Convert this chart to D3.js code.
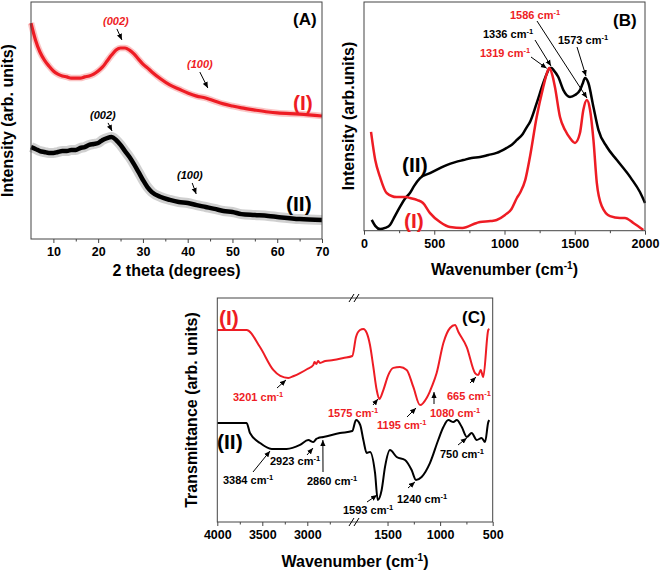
<!DOCTYPE html>
<html><head><meta charset="utf-8">
<script src="https://cdn.jsdelivr.net/npm/d3@7"></script>
<style>
body{margin:0;background:#fff}
svg{display:block}
text{font-family:"Liberation Sans",Arial,sans-serif;font-weight:bold}
</style>
</head><body><svg id="c" width="661" height="571"></svg>
<script>
// ---------- DATA ----------
// (A) XRD
const xrdTheta = [5,6,7,8,9,10,11,12,13,14,15,16,17,18,19,20,21,22,23,24,25,26,27,28,29,30,31,32,34,36,38,40,42,44,46,48,50,52,55,58,60,65,70];
const xrdI  = [91.1,84.0,78.9,75.5,73.0,70.9,69.6,68.8,68.4,67.9,67.9,67.9,68.4,68.8,69.6,70.9,72.6,75.1,77.6,79.7,80.6,80.6,79.7,78.1,75.9,73.8,72.2,70.5,67.5,65.0,63.3,61.6,60.3,59.5,58.2,57.0,56.1,55.3,54.4,53.6,53.2,52.7,51.9];
const xrdII = [38.8,38.0,37.1,36.7,36.3,36.3,36.7,37.1,37.1,37.6,37.6,38.4,38.8,39.7,40.1,40.5,41.8,42.6,43.0,41.8,39.7,37.1,34.6,31.6,28.3,24.9,21.9,19.8,17.7,16.5,15.6,15.2,14.3,13.5,12.7,11.8,11.4,10.5,10.1,9.7,9.3,8.4,8.0];
const xrdTicks = [10,20,30,40,50,60,70];

// (B) Raman
const ramanWaveI = [50,80,114,161,232,300,327,380,420,470,541,612,700,802,826,900,944,1004,1050,1088,1110,1148,1181,1229,1276,1300,1319,1340,1359,1395,1431,1466,1502,1537,1561,1586,1609,1633,1657,1692,1751,1822,1857,1917,1988];
const ramanIntI  = [43.2,30.9,23.5,16.5,14.7,14.7,14.3,13.4,12.1,7.7,3.8,1.6,1.2,3.4,3.8,4.2,4.7,6.9,9.5,14.3,16.5,22.2,32.2,49.7,62.8,68.5,71.1,68.1,62.8,49.7,44.0,40.5,38.4,42.7,52.8,57.2,52.8,39.7,20.9,10.8,6.4,5.6,5.6,3.4,0.3];
const ramanWaveII = [55,80,114,150,185,220,256,290,327,356,399,470,530,588,650,707,766,826,885,944,1015,1050,1088,1130,1159,1181,1229,1276,1300,1324,1336,1348,1383,1419,1466,1502,1537,1555,1573,1597,1633,1669,1729,1800,1900,1964,2000];
const ramanIntII  = [4.7,2.1,0.7,1.2,2.5,6.4,10.4,13.9,16.5,19.5,23.0,25.2,27.0,28.7,30.0,30.9,31.8,32.2,33.1,34.0,36.2,37.5,39.7,42.3,45.3,47.5,55.8,64.6,68.5,71.1,71.1,70.3,67.2,61.5,58.5,59.3,61.5,64.1,66.8,64.6,54.1,44.0,36.6,30.9,23.0,16.9,12.1];
const ramanTicks = [0,500,1000,1500,2000];

// (C) FTIR
const ftirWaveI = [4000,3674,3526,3378,3300,3211,3150,3081,3000,2933,2920,2900,2880,2859,2800,2711,2600,2500,1800,1762,1730,1698,1667,1635,1603,1578,1540,1493,1445,1382,1318,1255,1191,1128,1100,1080,1033,969,906,858,826,747,668,637,614,590,542,532];
const ftirTI     = [85.7,85.7,78.1,67.9,65.2,64.3,65.2,66.5,68.3,70.1,71.4,70.5,71.9,71.0,71.9,72.3,73.2,74.1,82.6,85.7,86.2,84.4,79.0,69.2,58.9,54.9,58.9,65.6,68.8,69.2,67.9,60.3,52.2,55.4,58.0,60.3,66.5,79.9,86.6,87.9,84.8,78.1,66.5,65.6,67.9,64.7,85.7,86.2];
const ftirWaveII = [4000,3674,3637,3526,3396,3300,3230,3081,2989,2933,2900,2878,2822,2637,2500,1800,1760,1730,1698,1667,1619,1593,1556,1524,1477,1413,1334,1271,1230,1176,1097,1018,969,922,874,842,794,747,700,652,605,573,542,532];
const ftirTII    = [44.2,44.2,39.7,35.3,32.6,32.6,32.6,34.4,36.6,35.7,37.1,37.5,37.9,39.7,40.6,45.5,43.3,36.6,30.8,31.3,21.9,9.8,14.3,24.6,32.1,29.0,27.7,23.2,18.8,20.1,26.3,36.6,42.4,45.5,44.6,45.5,42.4,38.0,39.7,36.6,37.5,35.7,44.6,45.5];
const ftirTicks = [4000,3500,3000,1500,1000,500];
const ftirMinor = [3750,3250,2750,1250,750];

// annotations: [text, colour, target x value, target y value]
const xrdNotes = [["(002)","r",25.3,84],["(100)","r",44.5,63.7],["(002)","k",23.1,45.6],["(100)","k",41.9,19]];
const ramanNotes = [["1586","r",1587,58],["1336","k",1331,72],["1319","r",1300,71],["1573","k",1580,67.6]];
const ftirNotes = [["3201","r",3237,63.4],["1575","r",1591,54.9],["1195","r",1229,50.9],["1080","r",1058,58],["665","r",659,64.7],
                   ["3384","k",3414,31.7],["2923","k",2937,33],["2860","k",2827,36.6],["1593","k",1600,12],["1240","k",1239,17.9],["750","k",746,37.5]];

// ---------- DRAW ----------
const RED = "#ee1c24", BLK = "#000";
const col = c => c === "r" ? RED : BLK;
const svg = d3.select("#c");
svg.append("rect").attr("width",661).attr("height",571).attr("fill","#fff");
const defs = svg.append("defs");
defs.append("marker").attr("id","ah").attr("viewBox","0 0 8 8").attr("refX",8).attr("refY",4)
  .attr("markerWidth",6).attr("markerHeight",6).attr("markerUnits","userSpaceOnUse").attr("orient","auto")
  .append("path").attr("d","M0,0.5 L8,4 L0,7.5 Z").attr("fill","#000");

function frame(x0,y0,x1,y1){
  svg.append("rect").attr("x",x0).attr("y",y0).attr("width",x1-x0).attr("height",y1-y0)
    .attr("fill","none").attr("stroke","#444").attr("stroke-width",1);
}
function axis(scale, y, major, minor){
  const g = svg.append("g").attr("transform",`translate(0,${y})`)
    .call(d3.axisBottom(scale).tickValues(major).tickSize(4).tickPadding(4.5).tickFormat(d3.format("d")));
  g.select(".domain").remove();
  g.selectAll(".tick line").attr("stroke","#444");
  g.selectAll("text").attr("font-size",12.5).attr("font-family","Liberation Sans, Arial").attr("font-weight","bold").attr("fill","#000");
  const m = svg.append("g").attr("transform",`translate(0,${y})`)
    .call(d3.axisBottom(scale).tickValues(minor).tickSize(2.5).tickFormat(""));
  m.select(".domain").remove();
  m.selectAll(".tick line").attr("stroke","#444");
}
function title(x,y,txt,sup,rot){
  const t = svg.append("text").attr("font-size",16).attr("text-anchor","middle")
    .attr("transform", rot ? `translate(${x},${y}) rotate(-90)` : `translate(${x},${y})`);
  t.append("tspan").text(txt);
  if (sup){ t.append("tspan").attr("dy",-6).attr("font-size",10).text("-1"); t.append("tspan").attr("dy",6).text(")"); }
}
function label(x,y,txt,c,size,italic){
  return svg.append("text").attr("x",x).attr("y",y).attr("font-size",size).attr("fill",c)
    .attr("font-style", italic ? "italic" : null).text(txt);
}
function cmLabel(x,y,num,c){
  const t = svg.append("text").attr("x",x).attr("y",y).attr("font-size",11).attr("fill",c);
  t.append("tspan").text(num+" cm");
  t.append("tspan").attr("dy",-4).attr("font-size",7.5).text("-1");
}
function arrow(x1,y1,x2,y2){
  svg.append("line").attr("x1",x1).attr("y1",y1).attr("x2",x2).attr("y2",y2)
    .attr("stroke","#000").attr("stroke-width",1).attr("marker-end","url(#ah)");
}
function curve(xs, ys, xS, yS, c, w, band, bandCol, bandOp){
  const data = d3.zip(xs, ys);
  const ln = d3.line().x(d=>xS(d[0])).y(d=>yS(d[1])).curve(d3.curveMonotoneX);
  if (band) svg.append("path").attr("d",ln(data)).attr("fill","none").attr("stroke",bandCol)
      .attr("stroke-width",band).attr("stroke-opacity",bandOp).attr("stroke-linejoin","round");
  svg.append("path").attr("d",ln(data)).attr("fill","none").attr("stroke",c)
    .attr("stroke-width",w).attr("stroke-linejoin","round");
}

// ----- Panel A -----
const xA = d3.scaleLinear().domain([5,70]).range([31,322]);
const yA = d3.scaleLinear().domain([0,100]).range([239,2]);
curve(xrdTheta, xrdI, xA, yA, RED, 3.2, 6.5, "#f25a5a", 0.35);
curve(xrdTheta, xrdII, xA, yA, BLK, 4.5, 10, "#777", 0.35);
frame(31,2,322,239);
axis(xA, 239, xrdTicks, [15,25,35,45,55,65]);
title(176.5,276,"2 theta (degrees)");
title(13,120.5,"Intensity (arb. units)",false,true);
label(293,25,"(A)","#000",17);
label(293,110,"(I)",RED,21);
label(286,211,"(II)","#000",21);
const aLab = [[103,25,-5,-11],[187,68,-8,-16],[90,119,-4,-8],[177,179,-4,-11]];
xrdNotes.forEach((n,i)=>{
  const [lx,ly,dx,dy] = aLab[i];
  label(lx,ly,n[0],col(n[1]),11,true);
  const tx = xA(n[2]), ty = yA(n[3]);
  arrow(tx+dx,ty+dy,tx,ty);
});

// ----- Panel B -----
const xB = d3.scaleLinear().domain([0,2000]).range([364,645]);
const yB = d3.scaleLinear().domain([0,100]).range([230.7,2]);
curve(ramanWaveII, ramanIntII, xB, yB, BLK, 2.5);
curve(ramanWaveI, ramanIntI, xB, yB, RED, 2.5);
frame(364,2,645,230.7);
axis(xB, 230.7, ramanTicks, [250,750,1250,1750]);
title(504.5,275,"Wavenumber (cm",true);
title(354,116,"Intensity (arb.units)",false,true);
label(613,26,"(B)","#000",17);
label(402,172,"(II)","#000",21);
label(404,228,"(I)",RED,21);
const bLab = [[510,19,537,21],[483,38,535,40],[480,57,531,57],[558,44,577,47]];
ramanNotes.forEach((n,i)=>{
  const [lx,ly,ax,ay] = bLab[i];
  cmLabel(lx,ly,n[0],col(n[1]));
  arrow(ax,ay,xB(n[2]),yB(n[3]));
});

// ----- Panel C -----
const xC = d3.scaleLinear().domain([4000,2500,1800,500]).range([217.3,352.3,356,492.7]);
const yC = d3.scaleLinear().domain([0,100]).range([522,298]);
curve(ftirWaveI, ftirTI, xC, yC, RED, 2);
curve(ftirWaveII, ftirTII, xC, yC, BLK, 2);
frame(217.3,298,492.7,522);
axis(xC, 522, ftirTicks, ftirMinor);
// axis break marks
[298,522].forEach(yy=>{
  [-2.5,2.5].forEach(o=>{
    svg.append("line").attr("x1",354+o-2.5).attr("y1",yy+4).attr("x2",354+o+2.5).attr("y2",yy-4)
      .attr("stroke","#000").attr("stroke-width",1);
  });
});
title(355,567,"Wavenumber (cm",true);
title(197,410,"Transmittance (arb. units)",false,true);
label(462,323,"(C)","#000",17);
label(219,325,"(I)",RED,21);
label(217,449,"(II)","#000",21);
const cLab = [[233,401,277,388],[328,417,373,405],[377,429,407,417],[430,417,434,404],[447,400,470,383],
              [223,484,253,472],[270,465,307,455],[307,485,323,472],[343,514,367,502],[397,503,408,488],[440,458,458,445]];
ftirNotes.forEach((n,i)=>{
  const [lx,ly,ax,ay] = cLab[i];
  cmLabel(lx,ly,n[0],col(n[1]));
  arrow(ax,ay,xC(n[2]),yC(n[3]));
});
</script></body></html>
